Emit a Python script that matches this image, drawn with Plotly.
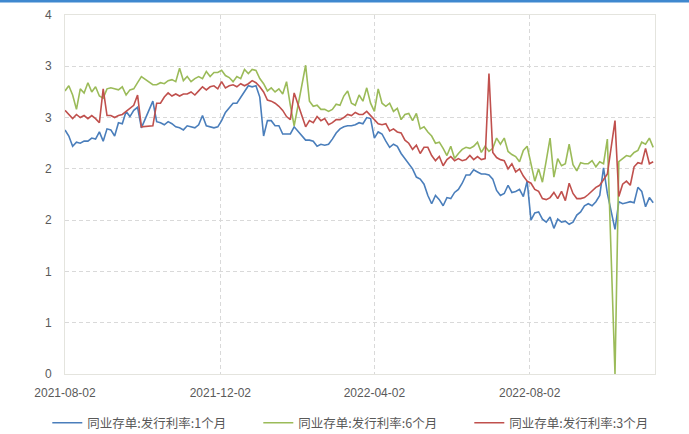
import pandas as pd
import plotly.graph_objects as go

# ---- data ----
dates = pd.date_range("2021-08-02", periods=155, freq="3D")

rate_1m = [
    2.38, 2.32, 2.22, 2.26, 2.25, 2.27, 2.27, 2.30, 2.29, 2.36,
    2.27, 2.39, 2.38, 2.32, 2.45, 2.44, 2.56, 2.51, 2.57, 2.60,
    2.40, None, None, 2.66, 2.46, 2.45, 2.43, 2.46, 2.44, 2.41,
    2.40, 2.38, 2.42, 2.41, 2.40, 2.43, 2.52, 2.42, 2.41, 2.40,
    2.41, 2.47, 2.55, 2.59, 2.64, 2.64, 2.70, 2.75, 2.81, 2.80,
    2.81, 2.70, 2.32, 2.47, 2.47, 2.42, 2.42, 2.34, 2.34, 2.34,
    2.41, None, None, 2.28, 2.28, 2.27, 2.22, 2.24, 2.23, 2.24,
    2.29, 2.35, 2.39, 2.41, 2.42, 2.42, 2.43, 2.45, 2.44, 2.50,
    2.49, 2.30, 2.36, 2.34, 2.27, 2.21, 2.24, 2.22, 2.15, 2.10,
    2.04, 2.00, 1.92, 1.90, 1.85, 1.74, 1.66, 1.74, 1.70, 1.64,
    1.72, 1.71, 1.77, 1.80, 1.86, 1.94, 1.94, 1.99, 1.97, 1.95,
    1.95, 1.94, 1.90, 1.79, 1.74, 1.76, 1.84, 1.77, 1.78, 1.80,
    1.73, 1.88, 1.50, 1.57, 1.58, 1.51, 1.48, 1.53, 1.42, 1.51,
    1.48, 1.49, 1.46, 1.48, 1.55, 1.58, 1.64, 1.66, 1.64, 1.68,
    1.74, 2.01, 1.76, None, 1.41, 1.68, 1.66, 1.67, 1.68, 1.67,
    1.82, 1.78, 1.63, 1.72, 1.67,
]

rate_6m = [
    2.76, 2.81, 2.72, 2.58, 2.78, 2.74, 2.84, 2.75, 2.80, 2.71,
    2.69, 2.78, 2.79, 2.78, 2.77, 2.80, 2.72, 2.77, 2.78, 2.84,
    2.90, None, None, 2.82, 2.82, 2.84, 2.83, 2.86, 2.87, 2.85,
    2.98, 2.86, 2.90, 2.85, 2.88, 2.90, 2.88, 2.95, 2.90, 2.94,
    2.94, 2.96, 2.91, 2.89, 2.85, 2.90, 2.88, 2.97, 2.93, 2.97,
    2.96, 2.88, 2.83, 2.76, 2.79, 2.75, 2.78, 2.73, 2.85, 2.62,
    2.42, None, None, 3.01, 2.66, 2.61, 2.62, 2.58, 2.58, 2.56,
    2.58, 2.63, 2.62, 2.71, 2.76, 2.64, 2.62, 2.72, 2.66, 2.79,
    2.64, 2.56, 2.78, 2.64, 2.61, 2.64, 2.56, 2.59, 2.48, 2.53,
    2.54, 2.47, 2.54, 2.39, 2.41, 2.36, 2.32, 2.25, 2.26, 2.20,
    2.13, 2.22, 2.10, 2.15, 2.19, 2.21, 2.20, 2.22, 2.26, 2.16,
    2.22, 2.17, 2.20, 2.30, 2.24, 2.30, 2.17, 2.14, 2.12, 2.07,
    2.18, 2.22, 2.05, 1.88, 2.00, 1.87, 2.08, 2.30, 1.92, 2.10,
    2.03, 2.05, 2.24, 2.04, 1.98, 2.06, 2.05, 2.05, 2.08, 2.02,
    2.07, 2.05, 2.29, None, 0.00, 2.07, 2.10, 2.13, 2.12, 2.16,
    2.18, 2.26, 2.24, 2.30, 2.21,
]

rate_3m = [
    2.57, 2.53, 2.49, 2.53, 2.50, 2.52, 2.49, 2.52, 2.49, 2.45,
    2.78, 2.52, 2.52, 2.50, 2.52, 2.53, 2.56, 2.59, 2.62, 2.72,
    2.41, None, None, 2.42, 2.64, 2.64, 2.70, 2.74, 2.71, 2.73,
    2.71, 2.73, 2.73, 2.75, 2.72, 2.76, 2.80, 2.77, 2.80, 2.81,
    2.78, 2.85, 2.79, 2.81, 2.82, 2.80, 2.83, 2.81, 2.83, 2.86,
    2.84, 2.80, 2.75, 2.67, 2.66, 2.64, 2.61, 2.57, 2.51, 2.48,
    2.74, None, None, 2.41, 2.47, 2.45, 2.51, 2.47, 2.49, 2.43,
    2.45, 2.48, 2.48, 2.50, 2.53, 2.52, 2.55, 2.53, 2.53, 2.56,
    2.52, 2.49, 2.44, 2.43, 2.44, 2.37, 2.39, 2.36, 2.35, 2.28,
    2.25, 2.19, 2.23, 2.15, 2.21, 2.21, 2.13, 2.08, 2.12, 2.03,
    2.09, 2.12, 2.08, 2.10, 2.08, 2.09, 2.13, 2.09, 2.12, 2.09,
    2.10, 2.93, 2.16, 2.11, 2.09, 2.08, 2.00, 2.05, 1.97, 2.00,
    1.93, 1.88, 1.86, 1.80, 1.78, 1.71, 1.70, 1.72, 1.77, 1.71,
    1.78, 1.69, 1.86, 1.76, 1.71, 1.71, 1.72, 1.75, 1.79, 1.82,
    1.84, 1.90, 1.95, None, 2.47, 1.73, 1.85, 1.88, 1.84, 2.02,
    2.06, 2.05, 2.20, 2.05, 2.07,
]

series_names = ["同业存单:发行利率:1个月", "同业存单:发行利率:6个月", "同业存单:发行利率:3个月"]
series_colors = ["#4A7EBB", "#9BBB59", "#C0504D"]

y_tick_vals = [0, 0.5, 1, 1.5, 2, 2.5, 3, 3.5]
y_tick_text = ["0", "1", "1", "2", "2", "3", "3", "4"]
x_tick_vals = ["2021-08-02", "2021-12-02", "2022-04-02", "2022-08-02"]
x_tick_text = ["2021-08-02", "2021-12-02", "2022-04-02", "2022-08-02"]

# ---- figure ----
fig = go.Figure()
for name, vals, col in zip(series_names, [rate_1m, rate_6m, rate_3m], series_colors):
    fig.add_trace(go.Scatter(
        x=dates, y=vals, mode="lines", name=name,
        line=dict(color=col, width=1.6), connectgaps=True,
    ))

tick_font = dict(family="Liberation Sans Narrow, Liberation Sans, Arial, sans-serif", size=12, color="#595959")
grid_col = "#D9D9D9"
border_col = "#E4E4DE"

fig.update_layout(
    width=689, height=434,
    margin=dict(l=64.5, r=33.5, t=15, b=60, autoexpand=False),
    paper_bgcolor="white", plot_bgcolor="white",
    showlegend=True,
    legend=dict(
        orientation="h", xref="paper", yref="paper",
        x=-0.03, xanchor="left", y=-0.095, yanchor="top",
        entrywidth=166, entrywidthmode="pixels",
        font=dict(family="Noto Sans CJK SC, sans-serif", size=12.5, color="#595959"),
        bgcolor="rgba(0,0,0,0)",
    ),
    xaxis=dict(
        type="date",
        range=["2021-08-02", "2022-11-08 10:00"],
        tickvals=x_tick_vals, ticktext=x_tick_text,
        showgrid=True, gridcolor=grid_col, gridwidth=1, griddash="4px,3px",
        showline=True, linecolor=border_col, linewidth=1, mirror=True,
        zeroline=False, ticks="", tickfont=tick_font, ticklabelstandoff=8,
    ),
    yaxis=dict(
        range=[0, 3.5],
        tickvals=y_tick_vals, ticktext=y_tick_text,
        showgrid=True, gridcolor=grid_col, gridwidth=1, griddash="4px,3px",
        showline=True, linecolor=border_col, linewidth=1, mirror=True,
        zeroline=False, ticks="", tickfont=tick_font, ticklabelstandoff=10,
    ),
)

# top blue band of the page
fig.add_shape(type="rect", xref="paper", yref="paper",
              x0=-0.2, x1=1.2, y0=1 + 12.5 / 359, y1=1 + 16 / 359,
              fillcolor="#3F88CF", line=dict(width=0), layer="above")

fig.write_html("out.html", config={"displayModeBar": False},
               post_script="document.body.style.margin='0px';")
